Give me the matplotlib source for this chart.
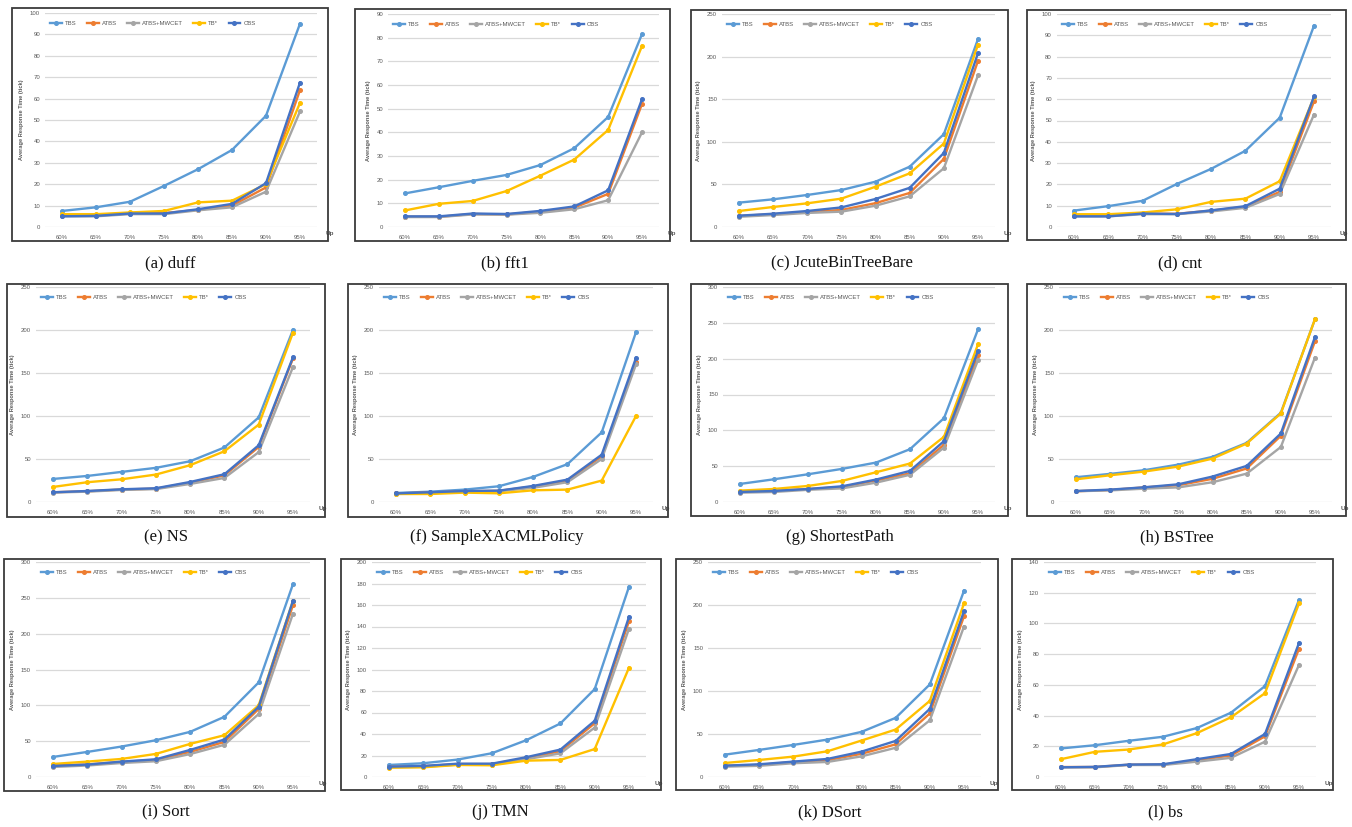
import matplotlib
matplotlib.use('Agg')
import matplotlib.pyplot as plt
from matplotlib.patches import Rectangle
import numpy as np

# ---------------- data ----------------
categories = ['60%', '65%', '70%', '75%', '80%', '85%', '90%', '95%']
series_names = ['TBS', 'ATBS', 'ATBS+MWCET', 'TB*', 'CBS']

duff_tbs = [7.5, 9.2, 11.8, 19.2, 27, 36, 52, 95]
duff_atbs = [5.5, 5.5, 6.5, 6.5, 8, 10, 18.5, 64]
duff_mwcet = [5, 5, 6, 6, 7.8, 9.2, 16.5, 54]
duff_tbstar = [6, 6, 6.8, 7.5, 11.5, 12.3, 20, 58]
duff_cbs = [5, 5.2, 6.3, 6.3, 8.3, 10.8, 20.5, 67.5]

fft1_tbs = [14.2, 16.8, 19.5, 22, 26.2, 33.3, 46.5, 81.5]
fft1_atbs = [4.3, 4.3, 5.5, 5.3, 6.5, 8.2, 14, 52]
fft1_mwcet = [4.2, 4.2, 5.3, 5.2, 6, 7.5, 11.3, 40]
fft1_tbstar = [7, 9.8, 11, 15.2, 21.7, 28.5, 41, 76.5]
fft1_cbs = [4.5, 4.5, 5.7, 5.5, 6.8, 8.7, 15.5, 54]

jcute_tbs = [28.6, 32.5, 37.6, 43.4, 53.2, 70.8, 109, 220.6]
jcute_atbs = [13, 15, 17.5, 20, 28, 40, 80, 195]
jcute_mwcet = [12, 14, 16.5, 18, 25, 36, 69, 178]
jcute_tbstar = [18.8, 23.5, 27.8, 33.3, 47.3, 63, 98, 214]
jcute_cbs = [13.3, 15.6, 18.8, 23, 32.9, 46, 87, 204]

cnt_tbs = [7.7, 9.8, 12.3, 20.2, 27.3, 35.8, 51.3, 94.5]
cnt_atbs = [5.3, 5.3, 6.3, 6.2, 7.7, 9.5, 16.5, 59]
cnt_mwcet = [5, 5, 6, 6, 7.3, 9, 15.5, 52.8]
cnt_tbstar = [6, 6, 6.8, 8.3, 11.8, 13.3, 21.5, 61]
cnt_cbs = [5, 5, 6.3, 6.1, 7.8, 9.8, 18, 61.3]

ns_tbs = [26.8, 30.3, 35, 39.7, 47.4, 63.4, 98.4, 200.2]
ns_atbs = [11.3, 12.5, 14.5, 15.5, 22.5, 31, 64, 167]
ns_mwcet = [11, 12, 14, 15, 21, 28, 58, 157]
ns_tbstar = [17.5, 23, 26.4, 31.9, 42.8, 59, 90, 197]
ns_cbs = [11.3, 12.8, 14.8, 16, 23.3, 32.3, 66, 168.4]

sxp_tbs = [10.5, 12, 14.4, 18.3, 29.2, 44, 81, 197.5]
sxp_atbs = [10, 11, 12.5, 13, 18, 25, 53, 163]
sxp_mwcet = [9.5, 10.5, 12, 12.5, 16.5, 23, 50, 160]
sxp_tbstar = [9.3, 9.3, 10.9, 10.1, 13.6, 14.4, 24.9, 100]
sxp_cbs = [10, 11.3, 12.8, 13.2, 18.7, 26, 55, 167.6]

sp_tbs = [25.2, 31.7, 38.7, 46.2, 55, 73.7, 117, 240.8]
sp_atbs = [14, 15.5, 18, 21, 30, 40, 80, 205]
sp_mwcet = [13, 14, 17, 19, 27, 38, 76, 198]
sp_tbstar = [15.9, 18.2, 22.4, 29.4, 41.5, 53.7, 91, 220]
sp_cbs = [14, 15.4, 18.2, 21.9, 31.3, 43.4, 85, 211]

bst_tbs = [28.8, 32.7, 37, 43.5, 52.5, 68.8, 103.8, 212.7]
bst_atbs = [12.5, 14, 17, 19.5, 27, 39, 77, 187]
bst_mwcet = [12.5, 13.5, 15.5, 17, 23, 33, 64, 168]
bst_tbstar = [26.4, 31.1, 35.4, 41.2, 50.5, 68, 103, 212.7]
bst_cbs = [12.8, 14.4, 17.1, 20.6, 29.6, 42, 79.7, 192]

sort_tbs = [28, 35, 42.5, 51.3, 63, 84, 132, 269.2]
sort_atbs = [16, 17.5, 21, 24, 35, 49, 95, 240]
sort_mwcet = [14, 16, 19.5, 22, 32, 45, 88, 228]
sort_tbstar = [18.2, 21.5, 25.2, 32.2, 46.2, 58.3, 100, 246]
sort_cbs = [15.4, 17.3, 21.5, 24.7, 37.8, 52.3, 98, 246]

tmn_tbs = [11.2, 12.8, 16.2, 22.1, 34.2, 49.8, 81.8, 177]
tmn_atbs = [9.5, 10, 12, 12, 17.5, 24, 50, 145]
tmn_mwcet = [9, 9.5, 11.5, 11.5, 16.5, 22, 46, 138]
tmn_tbstar = [8.7, 9, 11.2, 10.9, 15.2, 15.9, 26, 101.7]
tmn_cbs = [9.6, 10.3, 12.4, 12.4, 18.4, 25.5, 52.3, 149]

dsort_tbs = [26, 31.5, 37.3, 43.5, 52.5, 68.8, 107.7, 216.6]
dsort_atbs = [13, 14, 17.5, 19.5, 27, 38, 74, 187]
dsort_mwcet = [12, 13, 16, 17.5, 24, 34, 66, 175]
dsort_tbstar = [16.3, 19.8, 23.7, 29.9, 42.4, 55.2, 88.6, 201.8]
dsort_cbs = [13.2, 14.8, 17.9, 21, 29.5, 42, 79.3, 192.8]

bs_tbs = [18.6, 20.7, 23.6, 26.2, 31.9, 41.9, 59.2, 115.3]
bs_atbs = [6.5, 6.5, 8, 8, 11, 14, 26.5, 83.5]
bs_mwcet = [6.3, 6.3, 7.8, 7.8, 10, 12.5, 23, 73]
bs_tbstar = [11.6, 16.4, 17.9, 21.2, 28.6, 38.9, 54.6, 113]
bs_cbs = [6.3, 6.6, 8.1, 8.3, 11.6, 15, 28, 87.3]

captions = ['(a) duff', '(b) fft1', '(c) JcuteBinTreeBare', '(d) cnt',
            '(e) NS', '(f) SampleXACMLPolicy', '(g) ShortestPath', '(h) BSTree',
            '(i) Sort', '(j) TMN', '(k) DSort', '(l) bs']
y_max = [100, 90, 250, 100, 250, 250, 300, 250, 300, 200, 250, 140]
y_step = [10, 10, 50, 10, 50, 50, 50, 50, 50, 20, 50, 20]

panel_series = [
    [duff_tbs, duff_atbs, duff_mwcet, duff_tbstar, duff_cbs],
    [fft1_tbs, fft1_atbs, fft1_mwcet, fft1_tbstar, fft1_cbs],
    [jcute_tbs, jcute_atbs, jcute_mwcet, jcute_tbstar, jcute_cbs],
    [cnt_tbs, cnt_atbs, cnt_mwcet, cnt_tbstar, cnt_cbs],
    [ns_tbs, ns_atbs, ns_mwcet, ns_tbstar, ns_cbs],
    [sxp_tbs, sxp_atbs, sxp_mwcet, sxp_tbstar, sxp_cbs],
    [sp_tbs, sp_atbs, sp_mwcet, sp_tbstar, sp_cbs],
    [bst_tbs, bst_atbs, bst_mwcet, bst_tbstar, bst_cbs],
    [sort_tbs, sort_atbs, sort_mwcet, sort_tbstar, sort_cbs],
    [tmn_tbs, tmn_atbs, tmn_mwcet, tmn_tbstar, tmn_cbs],
    [dsort_tbs, dsort_atbs, dsort_mwcet, dsort_tbstar, dsort_cbs],
    [bs_tbs, bs_atbs, bs_mwcet, bs_tbstar, bs_cbs],
]

# ---------------- layout (pixels) ----------------
W, H = 1352, 827
# x of first category, x of last category, y of top gridline, y of zero line
plot_px = [
    (62, 300, 13, 227), (405, 642, 14, 227), (739, 978, 14, 227), (1074, 1314, 14, 227),
    (53, 293, 287, 502), (396, 636, 287, 502), (740, 978, 287, 502), (1076, 1315, 287, 502),
    (53, 293, 562, 777), (389, 629, 562, 777), (725, 964, 562, 777), (1061, 1299, 562, 777),
]
# chart-area border: left, right, top, bottom
box_px = [
    (12, 328, 8, 241), (355, 670, 9, 241), (691, 1008, 10, 241), (1027, 1346, 10, 240),
    (7, 325, 284, 517), (348, 668, 284, 517), (691, 1008, 284, 516), (1027, 1346, 284, 516),
    (4, 325, 559, 791), (341, 661, 559, 790), (676, 998, 559, 790), (1012, 1333, 559, 790),
]
caption_px = [
    (170, 263), (505, 263), (842, 263), (1180, 263),
    (166, 537), (497, 537), (840, 537), (1177, 537),
    (166, 812), (500, 812), (830, 812), (1165, 812),
]

colors = ['#5B9BD5', '#ED7D31', '#A5A5A5', '#FFC000', '#4472C4']
text_gray = '#595959'
grid_gray = '#D9D9D9'

plt.rcParams['font.family'] = ['Liberation Sans', 'DejaVu Sans']

fig = plt.figure(figsize=(W / 100, H / 100), dpi=100)
fig.patch.set_facecolor('white')

x = np.arange(len(categories))
for i in range(12):
    x60, x95, ytop, yzero = plot_px[i]
    d = (x95 - x60) / 7.0
    left = x60 - d / 2
    right = x95 + d / 2
    ax = fig.add_axes([left / W, 1 - yzero / H, (right - left) / W, (yzero - ytop) / H])
    ax.set_xlim(-0.5, len(categories) - 0.5)
    ax.set_ylim(0, y_max[i])
    ax.set_yticks(np.arange(0, y_max[i] + y_step[i] / 2, y_step[i]))
    ax.set_xticks(x)
    ax.set_xticklabels(categories)
    ax.tick_params(axis='both', length=0, labelsize=4.3, colors=text_gray)
    ax.tick_params(axis='x', pad=5.5)
    ax.tick_params(axis='y', pad=3.5)
    for s in ax.spines.values():
        s.set_visible(False)
    ax.grid(axis='y', color=grid_gray, lw=0.9)
    ax.set_axisbelow(True)
    ax.set_facecolor('none')
    for k in range(5):
        ax.plot(x, panel_series[i][k], color=colors[k], lw=1.7, marker='o',
                markersize=2.6, label=series_names[k], clip_on=False, zorder=3 + k)
    ax.set_ylabel('Average Response Time (tick)', fontsize=4.1, color=text_gray,
                  fontweight='bold', labelpad=4)
    ax.annotate('Up', xy=(1.0, 0.0), xycoords='axes fraction', xytext=(6, -5),
                textcoords='offset points', ha='left', va='center',
                fontsize=4.6, fontweight='bold', color=text_gray)
    leg = ax.legend(loc='center left', bbox_to_anchor=(0.02, 0.952), ncol=5,
                    frameon=False, fontsize=4.3, handlelength=2.0, handletextpad=0.5,
                    columnspacing=1.7, borderpad=0, borderaxespad=0)
    for t in leg.get_texts():
        t.set_color(text_gray)

    L, R, T, B = box_px[i]
    fig.add_artist(Rectangle((L / W, 1 - B / H), (R - L) / W, (B - T) / H,
                             transform=fig.transFigure, fill=False,
                             ec='#3A3A3A', lw=1.3))
    cx, cy = caption_px[i]
    fig.text(cx / W, 1 - cy / H, captions[i], ha='center', va='center',
             fontsize=12, family='Liberation Serif', color='#111111')

fig.savefig('out.png', dpi=100, facecolor='white')
